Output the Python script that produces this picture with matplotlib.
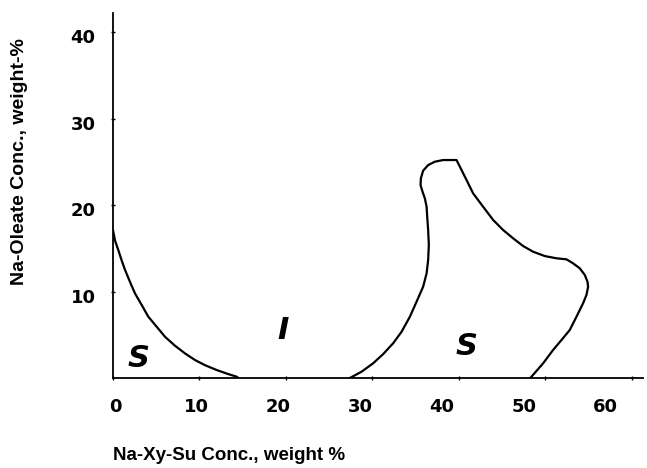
import matplotlib
matplotlib.use("Agg")
import matplotlib.pyplot as plt
from matplotlib.transforms import ScaledTranslation

# Boundary curves (Na-Xy-Su %, Na-Oleate %)
left_x = [0.0, 0.23, 0.61, 1.0, 1.39, 1.97, 2.54, 3.32, 4.08, 5.05, 6.01, 7.17,
          8.32, 9.48, 10.6, 12.0, 13.3, 14.3, 14.5]
left_y = [17.1, 15.9, 14.8, 13.6, 12.5, 11.1, 9.79, 8.44, 7.09, 5.93, 4.77, 3.73,
          2.85, 2.08, 1.50, 0.92, 0.46, 0.15, 0.0]

right_x = [27.40, 28.75, 30.09, 31.25, 32.40, 33.38, 34.34, 35.11, 35.87, 36.27,
           36.45, 36.53, 36.45, 36.34, 36.27, 36.07, 35.80, 35.57, 35.61, 35.87,
           36.45, 37.23, 38.18, 38.96, 39.73, 40.12, 40.89, 41.65, 42.81, 43.97,
           45.12, 46.28, 47.43, 48.59, 49.94, 51.29, 52.45, 53.21, 53.99, 54.57,
           54.88, 54.95, 54.76, 54.37, 53.61, 52.83, 51.87, 50.90, 49.75, 48.40,
           48.27]
right_y = [0.0, 0.73, 1.70, 2.77, 4.01, 5.35, 7.09, 8.82, 10.55, 12.10,
           13.64, 15.38, 17.11, 18.65, 19.80, 20.77, 21.54, 22.31, 23.09, 23.97,
           24.62, 25.01, 25.20, 25.20, 25.20, 24.43, 22.89, 21.35, 19.80, 18.27,
           17.11, 16.15, 15.26, 14.60, 14.10, 13.84, 13.72, 13.26, 12.68, 11.91,
           11.13, 10.55, 9.60, 8.64, 7.09, 5.55, 4.39, 3.24, 1.70, 0.15,
           0.0]

region_labels = ["S", "I", "S"]
region_x = [2.9, 19.7, 40.9]
region_y = [2.3, 5.5, 3.6]

x_ticks = [0, 10, 20, 30, 40, 50, 60]
y_ticks = [10, 20, 30, 40]

fig = plt.figure(figsize=(6.47, 4.68), dpi=100)
ax = fig.add_axes([113/647, 90/468, 530/647, 365/468])
ax.set_xlim(0, 61.3)
ax.set_ylim(0, 42.2)

ax.plot(left_x, left_y, color="black", lw=1.6, solid_capstyle="round",
        solid_joinstyle="round")
ax.plot(right_x, right_y, color="black", lw=1.6, solid_capstyle="round",
        solid_joinstyle="round")

for t, x, y in zip(region_labels, region_x, region_y):
    ax.text(x, y, t, fontsize=22, fontweight="bold", fontstyle="oblique",
            family="DejaVu Sans", ha="center", va="center")

for s in ["top", "right"]:
    ax.spines[s].set_visible(False)
for s in ["left", "bottom"]:
    ax.spines[s].set_linewidth(1.3)

ax.set_xticks(x_ticks)
ax.set_xticklabels([str(v) for v in x_ticks])
ax.set_yticks(y_ticks)
ax.set_yticklabels([str(v) for v in y_ticks])
ax.tick_params(axis="both", direction="inout", length=3, width=1,
               labelsize=13)
for lab in ax.get_xticklabels() + ax.get_yticklabels():
    lab.set_fontweight("bold")
ax.tick_params(axis="x", pad=13)
ax.tick_params(axis="y", pad=11)

# slight drift of printed tick labels relative to tick marks
for v, lab in zip(x_ticks, ax.get_xticklabels()):
    dx = (2 - 0.47 * v) / 100.0
    lab.set_transform(lab.get_transform() + ScaledTranslation(dx, 0, fig.dpi_scale_trans))
for lab in ax.get_yticklabels():
    lab.set_transform(lab.get_transform() + ScaledTranslation(0, -4/100.0, fig.dpi_scale_trans))

fig.text(113/647, (468-455)/468, "Na-Xy-Su Conc., weight %", fontsize=13.5,
         fontweight="bold", family="Liberation Sans", ha="left", va="center")
fig.text(20/647, (468-162)/468, "Na-Oleate Conc., weight-%", fontsize=14,
         fontweight="bold", family="Liberation Sans", ha="center", va="center",
         rotation=90)

fig.savefig("out.png", dpi=100)
